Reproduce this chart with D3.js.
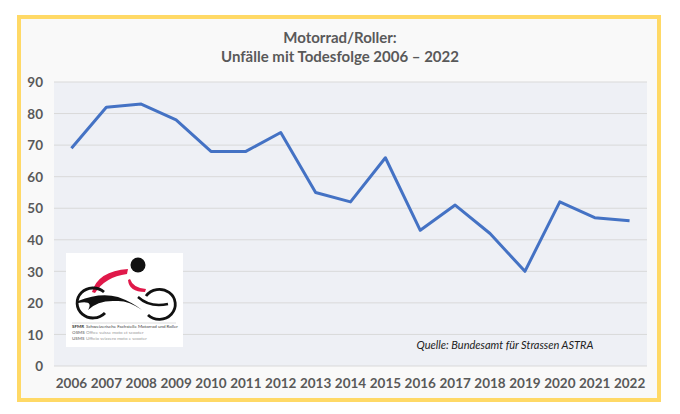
<!DOCTYPE html>
<html><head><meta charset="utf-8">
<script src="https://cdn.jsdelivr.net/npm/d3@7"></script>
<style>html,body{margin:0;padding:0;background:#fff;}svg{display:block;}</style>
</head><body>
<script>
const years = ["2006","2007","2008","2009","2010","2011","2012","2013","2014","2015","2016","2017","2018","2019","2020","2021","2022"];
const deaths = [69,82,83,78,68,68,74,55,52,66,43,51,42,30,52,47,46];
const yTicks = [0,10,20,30,40,50,60,70,80,90];
const titleLines = ["Motorrad/Roller:", "Unfälle mit Todesfolge 2006 – 2022"];
const sourceText = "Quelle: Bundesamt für Strassen ASTRA";
const logoLines = [["SFMR","Schweizerische Fachstelle Motorrad und Roller"],["OSMS","Office suisse moto et scooter"],["USMS","Ufficio svizzero moto e scooter"]];

const W=680,H=414;
const svg=d3.select("body").append("svg").attr("width",W).attr("height",H);
const font="Lato, 'Open Sans', sans-serif";

// frame
svg.append("rect").attr("x",19).attr("y",17).attr("width",640).attr("height",383)
  .attr("fill","#F9F9F9").attr("stroke","#FFD966").attr("stroke-width",4);

const m={l:54,r:647,t:82,b:366};
const x=d3.scaleBand().domain(years).range([m.l,m.r]);
const y=d3.scaleLinear().domain([0,90]).range([m.b,m.t]);

svg.append("rect").attr("x",m.l).attr("y",m.t).attr("width",m.r-m.l).attr("height",m.b-m.t).attr("fill","#EEF0F5");

// grid
svg.append("g").selectAll("line").data(yTicks).join("line")
  .attr("x1",m.l).attr("x2",m.r).attr("y1",d=>y(d)).attr("y2",d=>y(d))
  .attr("stroke","#D9D9D9").attr("stroke-width",1);

// y axis labels
const yAxis=d3.axisLeft(y).tickValues(yTicks).tickSize(0).tickPadding(0);
const ya=svg.append("g").attr("transform",`translate(${m.l-11},0)`).call(yAxis);
ya.select(".domain").remove();
ya.selectAll("text").attr("font-family",font).attr("font-weight","bold").attr("font-size",13.5).attr("fill","#595959").attr("dy","0.35em");

// x axis labels
const xAxis=d3.axisBottom(x).tickSize(0).tickPadding(0);
const xa=svg.append("g").attr("transform",`translate(0,${m.b+12})`).call(xAxis);
xa.select(".domain").remove();
xa.selectAll("text").attr("font-family",font).attr("font-weight","bold").attr("font-size",13.5).attr("fill","#595959").attr("dy","0.71em");

// title
svg.append("g").selectAll("text").data(titleLines).join("text")
  .attr("x",340).attr("y",(d,i)=>43+i*19).attr("text-anchor","middle")
  .attr("font-family",font).attr("font-weight","bold").attr("font-size",15).attr("fill","#595959").text(d=>d);

// logo
const lg=svg.append("g");
lg.append("rect").attr("x",66).attr("y",253).attr("width",117).attr("height",94).attr("fill","#fff");
lg.append("circle").attr("cx",138).attr("cy",265).attr("r",7.5).attr("fill","#111");
lg.append("path").attr("d","M92,292 Q98,271 128,269 L127,274 Q105,277 95,293 Z").attr("fill","#E0194A");
lg.append("path").attr("d","M130,279 Q133,288 146,289 L145,292 Q129,292 128,280 Z").attr("fill","#E0194A");
lg.append("path").attr("d","M104,292 A16,15 0 1 0 105,313").attr("fill","none").attr("stroke","#111").attr("stroke-width",2.8);
lg.append("path").attr("d","M146,296 A16,15 0 1 1 148,315").attr("fill","none").attr("stroke","#111").attr("stroke-width",2.8);
lg.append("path").attr("d","M78,301 Q100,292 118,297 Q132,302 142,310 Q128,300 116,301 Q98,300 88,310 Q94,300 78,303 Z").attr("fill","#111");
lg.append("path").attr("d","M138,297 Q150,308 168,304").attr("fill","none").attr("stroke","#111").attr("stroke-width",2.4);
lg.append("line").attr("x1",72).attr("x2",176).attr("y1",323).attr("y2",323).attr("stroke","#bbb").attr("stroke-width",0.5);
const lt=lg.selectAll("g.l").data(logoLines).join("g").attr("class","l");
lt.append("text").attr("x",72).attr("y",(d,i)=>328+i*6).attr("font-family",font).attr("font-size",4.5).attr("font-weight","bold").attr("fill",(d,i)=>i==0?"#333":"#888").text(d=>d[0]);
lt.append("text").attr("x",86).attr("y",(d,i)=>328+i*6).attr("font-family",font).attr("font-size",4.5).attr("fill",(d,i)=>i==0?"#444":"#999").text(d=>d[1]);

// source
svg.append("text").attr("x",505).attr("y",349).attr("text-anchor","middle")
  .attr("font-family",font).attr("font-style","italic").attr("font-size",11).attr("fill","#222").text(sourceText);

// line
const line=d3.line().x((d,i)=>x(years[i])+x.bandwidth()/2).y(d=>y(d));
svg.append("path").datum(deaths).attr("d",line).attr("fill","none").attr("stroke","#4472C4").attr("stroke-width",3).attr("stroke-linejoin","round");
</script>
</body></html>
